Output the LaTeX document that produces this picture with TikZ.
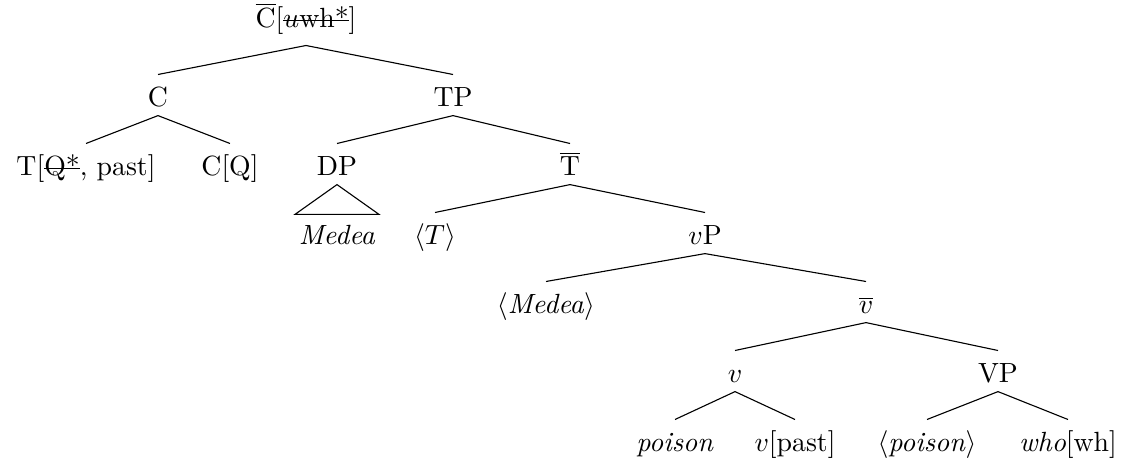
\documentclass[tikz,border=0pt]{standalone}
\usepackage{tikz}
\usetikzlibrary{positioning}
\newcommand{\strk}[1]{\setbox0\hbox{#1}\rlap{\raisebox{0.55ex}{\rule{\wd0}{0.4pt}}}\box0}

\begin{document}
\begin{tikzpicture}[x=0.36pt, y=-0.36pt,
    lab/.style={anchor=base, inner xsep=0.5pt, inner ysep=0pt, text height=11.5pt, text depth=2.9pt},
    rootlab/.style={lab, text depth=6.1pt},
    leaflab/.style={lab, inner xsep=1.2pt, text height=10.8pt}]
    \useasboundingbox (0,0) rectangle (1125,460);

    \node (cbar) [rootlab] at (306,28) {$\overline{\mbox{C}}$[\strk{$u$wh*}]};
    \node (c) [lab] at (158,107) {C};
    \node (tp) [lab] at (453,107) {TP};
    \node (tq) [lab] at (86,176) {T[\strk{Q*}, past]};
    \node (cq) [lab] at (230,176) {C[Q]};
    \node (dp) [lab] at (337,176) {DP};
    \node (tbar) [lab] at (570,176) {$\overline{\mbox{T}}$};
    \node (medea) [leaflab] at (337,245) {\textit{Medea}};
    \node (tcopy) [lab] at (435,245) {$\langle T\rangle$};
    \node (vp) [lab] at (705,245) {$v$P};
    \node (medeacopy) [lab] at (546,314) {$\langle$\textit{Medea}$\rangle$};
    \node (vbar) [lab] at (866,314) {$\overline{v}$};
    \node (v) [lab] at (735,383) {$v$};
    \node (vphrase) [lab] at (998,383) {VP};
    \node (poison) [lab] at (675,452) {\textit{poison}};
    \node (vpast) [lab] at (795,452) {$v$[past]};
    \node (poisoncopy) [lab] at (927,452) {$\langle$\textit{poison}$\rangle$};
    \node (who) [lab] at (1068,452) {\textit{who}[wh]};

    \draw (cbar.south) -- (c.north);
    \draw (cbar.south) -- (tp.north);
    \draw (c.south) -- (tq.north);
    \draw (c.south) -- (cq.north);
    \draw (tp.south) -- (dp.north);
    \draw (tp.south) -- (tbar.north);
    \draw (dp.south) -- (medea.north west) -- (medea.north east) -- cycle;
    \draw (tbar.south) -- (tcopy.north);
    \draw (tbar.south) -- (vp.north);
    \draw (vp.south) -- (medeacopy.north);
    \draw (vp.south) -- (vbar.north);
    \draw (vbar.south) -- (v.north);
    \draw (vbar.south) -- (vphrase.north);
    \draw (v.south) -- (poison.north);
    \draw (v.south) -- (vpast.north);
    \draw (vphrase.south) -- (poisoncopy.north);
    \draw (vphrase.south) -- (who.north);
\end{tikzpicture}
\end{document}
